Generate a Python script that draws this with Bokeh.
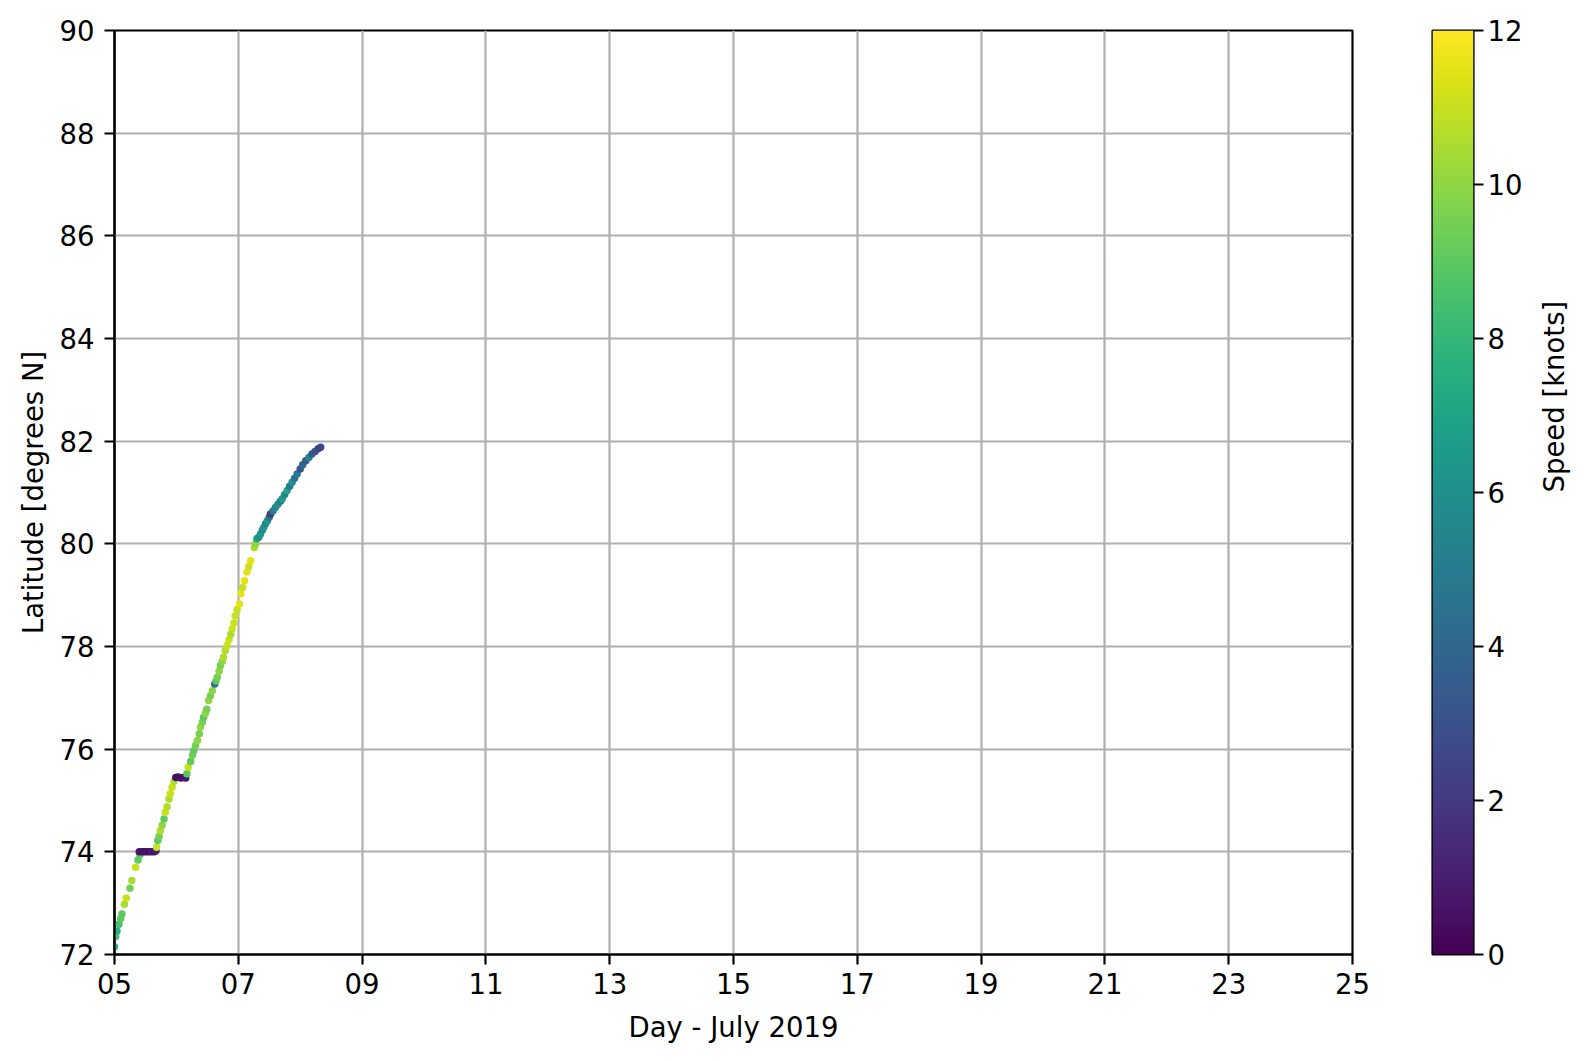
import math
import numpy as np
from bokeh.plotting import figure
from bokeh.layouts import row
from bokeh.models import Range1d, FixedTicker, LinearColorMapper, ColumnDataSource
from bokeh.palettes import Viridis256
from bokeh.transform import linear_cmap
from bokeh.embed import file_html
from bokeh.resources import INLINE

# ---- data ----
day = [5.00, 5.02, 5.04, 5.07, 5.10, 5.12, 5.16, 5.19, 5.25, 5.28, 5.34, 5.38, 5.41,
       5.40, 5.44, 5.48, 5.52, 5.56, 5.60, 5.64, 5.67,
       5.68, 5.70, 5.72, 5.74, 5.77, 5.80, 5.82, 5.85, 5.88, 5.90, 5.93, 5.96,
       5.99, 6.03, 6.07, 6.11, 6.15,
       6.17, 6.19, 6.23, 6.26, 6.28, 6.31, 6.34, 6.37, 6.39, 6.42, 6.44, 6.47, 6.49,
       6.52, 6.55, 6.58, 6.62, 6.64, 6.66, 6.69, 6.71, 6.74, 6.76, 6.79, 6.82, 6.85,
       6.88, 6.90, 6.93, 6.95, 6.98, 7.02, 7.04, 7.07, 7.10, 7.14, 7.17, 7.20, 7.26,
       7.28, 7.30, 7.33, 7.36, 7.39, 7.41, 7.44, 7.47, 7.50, 7.52, 7.56, 7.60, 7.64,
       7.68, 7.71, 7.75, 7.79, 7.83, 7.87, 7.91, 7.95, 8.00, 8.04, 8.09, 8.14, 8.19,
       8.24, 8.29, 8.33]
latitude = [72.15, 72.35, 72.46, 72.59, 72.70, 72.79, 72.98, 73.10, 73.29, 73.44, 73.70, 73.84, 73.94,
            74.00, 74.00, 74.00, 74.00, 74.00, 74.00, 74.00, 74.02,
            74.09, 74.22, 74.30, 74.41, 74.52, 74.64, 74.77, 74.88, 75.03, 75.13, 75.26, 75.37,
            75.45, 75.46, 75.44, 75.45, 75.44,
            75.52, 75.65, 75.76, 75.88, 75.97, 76.07, 76.17, 76.30, 76.43, 76.53, 76.62, 76.70, 76.78,
            76.95, 77.04, 77.14, 77.27, 77.33, 77.40, 77.52, 77.63, 77.71, 77.79, 77.92, 78.02, 78.13,
            78.24, 78.34, 78.46, 78.60, 78.72, 78.83, 79.03, 79.15, 79.28, 79.45, 79.56, 79.67, 79.93,
            80.00, 80.10, 80.13, 80.19, 80.27, 80.32, 80.39, 80.45, 80.52, 80.58, 80.64, 80.71, 80.77,
            80.83, 80.88, 80.96, 81.04, 81.12, 81.20, 81.28, 81.36, 81.46, 81.54, 81.62, 81.68, 81.75,
            81.80, 81.85, 81.88]
speed = [8.0, 8.5, 7.5, 8.5, 9.0, 9.0, 10.5, 11.0, 9.5, 10.5, 11.0, 9.0, 9.0,
         0.8, 0.6, 0.5, 0.7, 0.5, 0.9, 0.6, 1.0,
         11.0, 9.0, 9.5, 10.5, 10.0, 9.0, 11.0, 10.5, 10.5, 11.0, 11.0, 10.5,
         0.6, 0.5, 0.7, 0.5, 0.8,
         9.0, 11.0, 9.0, 9.5, 9.0, 9.5, 10.0, 9.5, 10.0, 9.5, 9.0, 10.0, 9.5,
         10.0, 9.5, 10.0, 4.0, 9.0, 9.5, 10.0, 9.5, 10.0, 10.5, 10.5, 11.0, 11.0,
         10.5, 11.0, 11.0, 11.0, 11.0, 11.5, 11.5, 11.0, 11.5, 11.5, 11.0, 11.5, 10.5,
         10.0, 7.0, 6.0, 6.5, 5.5, 6.5, 5.5, 6.5, 4.5, 2.0, 5.0, 5.5, 6.0,
         5.0, 6.5, 5.5, 7.0, 5.0, 6.0, 4.5, 5.0, 3.0, 4.0, 3.5, 5.5, 3.5,
         3.0, 2.5, 2.5]

x_ticks = [5, 7, 9, 11, 13, 15, 17, 19, 21, 23, 25]
x_tick_labels = ["05", "07", "09", "11", "13", "15", "17", "19", "21", "23", "25"]
y_ticks = [72, 74, 76, 78, 80, 82, 84, 86, 88, 90]
cbar_ticks = [0, 2, 4, 6, 8, 10, 12]
speed_low, speed_high = 0, 12

FONT = "DejaVu Sans"
FS = "27.5px"
LW = 2.2

src = ColumnDataSource(dict(day=day, lat=latitude, speed=speed))

p = figure(frame_width=1238, frame_height=924,
           x_range=Range1d(5, 25), y_range=Range1d(72, 90),
           output_backend="svg", toolbar_location=None,
           min_border_left=114, min_border_top=30, min_border_bottom=96, min_border_right=30,
           background_fill_color="white", border_fill_color="white")

p.scatter("day", "lat", source=src, size=7.5, line_color=None,
          fill_color=linear_cmap("speed", Viridis256, speed_low, speed_high))

p.xaxis.ticker = FixedTicker(ticks=x_ticks)
p.xaxis.major_label_overrides = {t: l for t, l in zip(x_ticks, x_tick_labels)}
p.yaxis.ticker = FixedTicker(ticks=y_ticks)
p.xaxis.axis_label = "Day - July 2019"
p.yaxis.axis_label = "Latitude [degrees N]"

for ax in (p.xaxis, p.yaxis):
    ax.axis_label_text_font = FONT
    ax.axis_label_text_font_size = FS
    ax.axis_label_text_font_style = "normal"
    ax.axis_label_text_color = "black"
    ax.major_label_text_font = FONT
    ax.major_label_text_font_size = FS
    ax.major_label_text_color = "black"
    ax.axis_line_color = "black"
    ax.axis_line_width = LW
    ax.major_tick_line_color = "black"
    ax.major_tick_line_width = LW
    ax.major_tick_out = 10
    ax.major_tick_in = 0
    ax.minor_tick_line_color = None
p.xaxis.major_label_standoff = 8
p.yaxis.major_label_standoff = 10
p.xaxis.axis_label_standoff = 14
p.yaxis.axis_label_standoff = 8

for g in (p.xgrid, p.ygrid):
    g.grid_line_color = "#b0b0b0"
    g.grid_line_width = LW
p.xgrid.ticker = FixedTicker(ticks=x_ticks)
p.ygrid.ticker = FixedTicker(ticks=y_ticks)

p.outline_line_color = "black"
p.outline_line_width = LW
p.outline_line_alpha = 1.0

# ---- colour bar as a separate narrow figure ----
cb = figure(frame_width=41, frame_height=924,
            x_range=Range1d(0, 1), y_range=Range1d(speed_low, speed_high),
            x_axis_location=None, y_axis_location="right",
            output_backend="svg", toolbar_location=None,
            min_border_left=50, min_border_top=30, min_border_bottom=96, min_border_right=90,
            background_fill_color="white", border_fill_color="white")
grad = np.linspace(speed_low, speed_high, 512).reshape(512, 1)
cb.image(image=[grad], x=0, y=speed_low, dw=1, dh=speed_high - speed_low,
         color_mapper=LinearColorMapper(palette=Viridis256, low=speed_low, high=speed_high))
cb.grid.visible = False
cb.outline_line_color = "black"
cb.outline_line_width = LW
ya = cb.yaxis[0]
ya.ticker = FixedTicker(ticks=cbar_ticks)
ya.axis_label = "Speed [knots]"
ya.axis_label_text_font = FONT
ya.axis_label_text_font_size = FS
ya.axis_label_text_font_style = "normal"
ya.axis_label_text_color = "black"
ya.major_label_text_font = FONT
ya.major_label_text_font_size = FS
ya.major_label_text_color = "black"
ya.axis_line_color = None
ya.major_tick_line_color = "black"
ya.major_tick_line_width = LW
ya.major_tick_out = 10
ya.major_tick_in = 0
ya.minor_tick_line_color = None
ya.major_label_standoff = 4
ya.axis_label_standoff = 29
try:
    ya.axis_label_orientation = math.pi / 2
except Exception:
    pass

layout = row(p, cb, spacing=0)
open("out.html", "w").write(file_html(layout, INLINE))
